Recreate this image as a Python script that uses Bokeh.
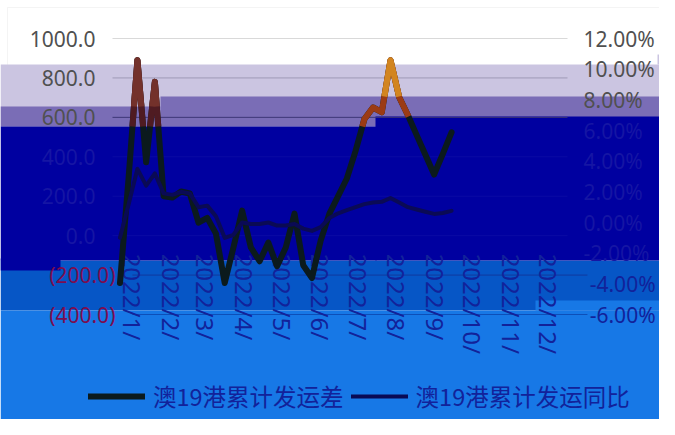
import pandas as pd
from bokeh.plotting import figure
from bokeh.models import (Range1d, LinearAxis, FixedTicker, BoxAnnotation,
                          Legend, LegendItem, NumeralTickFormatter)
from bokeh.embed import file_html
from bokeh.resources import INLINE

# ---------------- data ----------------
week_dates = pd.date_range("2022-01-07", periods=39, freq="7D")
diff_values = [-240, 300, 890, 372, 780, 200, 193, 224, 214, 66,
               90, 10, -240, -60, 127, -60, -130, -35, -155, -60,
               112, -150, -215, -25, 112, 200, 290, 430, 590, 650,
               626, 890, 702, 611, 510, 410, 310, 415, 524]
yoy_values = [-1.0, 1.2, 3.5, 2.4, 3.2, 1.9, 1.8, 2.0, 1.9, 1.0,
              1.1, 0.4, -1.0, -0.8, 0.0, -0.1, -0.1, 0.0, -0.2, -0.2,
              -0.1, -0.4, -0.55, -0.3, 0.3, 0.6, 0.8, 1.0, 1.2, 1.3,
              1.35, 1.6, 1.3, 1.0, 0.85, 0.7, 0.56, 0.62, 0.76]
series_names = ["澳19港累计发运差", "澳19港累计发运同比"]
month_labels = ["2022/1/", "2022/2/", "2022/3/", "2022/4/", "2022/5/", "2022/6/",
                "2022/7/", "2022/8/", "2022/9/", "2022/10/", "2022/11/", "2022/12/"]
month_start_days = [0, 31, 59, 90, 120, 151, 181, 212, 243, 273, 304, 334]
left_ticks = [-400, -200, 0, 200, 400, 600, 800, 1000]
right_ticks = [-6, -4, -2, 0, 2, 4, 6, 8, 10, 12]

# ---------------- layout / style ----------------
W, H = 659, 419
PX_L, PX_R, PX_T, PX_B = 112, 567, 38, 314      # plotting area in canvas pixels
D0, D1 = 0, 365                                  # days shown across the plotting area
TICK_SHIFT = 16                                  # lower strip is offset to the right
LABEL_GRAY = "#505050"
GHOST = "#1515a4"
NAVY_TEXT = "#12229a"
NEG_RED = "#7d0c4f"

ymin, ymax = left_ticks[0], left_ticks[-1]
pmin, pmax = right_ticks[0] / 100, right_ticks[-1] / 100
dpp = (D1 - D0) / (PX_R - PX_L)
vpp = (ymax - ymin) / (PX_B - PX_T)
ppp = (pmax - pmin) / (PX_B - PX_T)

x_range = Range1d(D0 - PX_L * dpp, D1 + (W - PX_R) * dpp)
y_range = Range1d(ymin - (H - PX_B) * vpp, ymax + PX_T * vpp)
pct_range = Range1d(pmin - (H - PX_B) * ppp, pmax + PX_T * ppp)

x_days = [(d - pd.Timestamp("2022-01-01")).days for d in week_dates]
yoy_frac = [v / 100 for v in yoy_values]

p = figure(width=W, height=H, x_range=x_range, y_range=y_range,
           output_backend="svg", toolbar_location=None,
           min_border_left=0, min_border_right=0, min_border_top=0, min_border_bottom=0,
           background_fill_color="white", border_fill_color="white",
           outline_line_color=None)
p.xgrid.visible = False
p.ygrid.visible = False
p.extra_y_ranges = {"pct": pct_range}


def cbox(l, r, t, b, color, level, line=None):
    return BoxAnnotation(left=l, right=r, top=t, bottom=b,
                         left_units="canvas", right_units="canvas",
                         top_units="canvas", bottom_units="canvas",
                         fill_color=color, fill_alpha=0.0 if color is None else 1.0,
                         line_color=line, line_width=1, level=level)


LAV, PUR, DARK, MED, BRI = "#cbc5e1", "#7a6db6", "#0000a0", "#0656c6", "#1778e6"
bands = [
    cbox(7, W + 5, 7, H + 5, None, "image", line="#d9d9d9"),   # chart border
    cbox(0, W, 64, 126, LAV, "image"),
    cbox(657, W, 54, 64, LAV, "image"),
    cbox(0, 160, 106, 126, PUR, "image"),
    cbox(160, W, 96, 126, PUR, "image"),
    cbox(0, W, 260, 310, MED, "image"),
    cbox(0, W, 310, H, BRI, "image"),
    cbox(535, W, 300, 310, BRI, "image"),
    cbox(0, 376, 126, 260, DARK, "image"),
    cbox(375, W, 116, 260, DARK, "image"),
    cbox(0, 60, 258, 270, DARK, "image"),
]
p.renderers.extend(bands)

# gridlines (the two lowest sit in the shifted lower strip)
grid_colors = {1000: "#d9d9d9", 800: "#9f9bb6", 600: "#3d3677", 400: "#0a0aa4",
               200: "#0a0aa4", 0: "#0a0aa4", -200: "#103a9e", -400: "#0d4fb8"}
gx0 = [D0 + (TICK_SHIFT if v < 0 else 0) for v in left_ticks]
gx1 = [D1 + (TICK_SHIFT if v < 0 else 0) for v in left_ticks]
p.segment(x0=gx0, x1=gx1, y0=left_ticks, y1=left_ticks,
          line_color=[grid_colors[v] for v in left_ticks], line_width=1, level="underlay")


# ---------------- axes (one per label colour, all pinned in place) ----------------
def style_axis(ax, ticks, color, standoff, loc, overrides=None):
    ax.ticker = FixedTicker(ticks=ticks, minor_ticks=[])
    ax.fixed_location = loc
    ax.axis_line_color = None
    ax.major_tick_line_color = None
    ax.minor_tick_line_color = None
    ax.major_tick_out = 0
    ax.major_tick_in = 0
    ax.major_label_standoff = standoff
    ax.major_label_text_font = "Noto Sans"
    ax.major_label_text_font_size = "21px"
    ax.major_label_text_color = color
    if overrides:
        ax.major_label_overrides = overrides


upper_l = [v for v in left_ticks if v >= 600]
mid_l = [v for v in left_ticks if 0 <= v < 600]
neg_l = [v for v in left_ticks if v < 0]
lax = p.yaxis[0]
lax.formatter = NumeralTickFormatter(format="0.0")
style_axis(lax, upper_l, LABEL_GRAY, 17, D0)
lax_mid = LinearAxis(formatter=NumeralTickFormatter(format="0.0"))
style_axis(lax_mid, mid_l, GHOST, 17, D0)
p.add_layout(lax_mid, "left")
lax_neg = LinearAxis()
style_axis(lax_neg, neg_l, NEG_RED, 17, D0 + TICK_SHIFT,
           {v: f"({abs(v):.1f})" for v in neg_l})
p.add_layout(lax_neg, "left")

pct_fmt = NumeralTickFormatter(format="0.00%")
upper_r = [v / 100 for v in right_ticks if v >= 8]
mid_r = [v / 100 for v in right_ticks if -2 <= v < 8]
neg_r = [v / 100 for v in right_ticks if v < -2]
for ticks, color, loc in ((upper_r, LABEL_GRAY, D1), (mid_r, GHOST, D1),
                          (neg_r, NAVY_TEXT, D1 + 5)):
    rax = LinearAxis(y_range_name="pct", formatter=pct_fmt)
    style_axis(rax, ticks, color, 16, loc)
    p.add_layout(rax, "right")

xax = p.xaxis[0]
xticks = [d + TICK_SHIFT for d in month_start_days]
xax.ticker = FixedTicker(ticks=xticks, minor_ticks=[])
xax.major_label_overrides = {t: lab for t, lab in zip(xticks, month_labels)}
xax.fixed_location = 0
xax.major_label_orientation = "vertical"
xax.axis_line_color = None
xax.major_tick_line_color = None
xax.minor_tick_line_color = None
xax.major_tick_out = 0
xax.major_tick_in = 0
xax.major_label_standoff = 18
xax.major_label_text_font = "Noto Sans"
xax.major_label_text_font_size = "24px"
xax.major_label_text_color = NAVY_TEXT

# ---------------- lines ----------------
black = p.line(x_days, diff_values, line_color="#0b1a1d", line_width=6,
               line_join="round", line_cap="round", level="overlay")
navy = p.line(x_days, yoy_frac, y_range_name="pct", line_color="#0a0a55", line_width=4,
              line_join="round", line_cap="round", level="overlay")


def px_to_val(yc):
    return ymax - (yc - PX_T) * vpp


def px_to_day(xc):
    return D0 + (xc - PX_L) * dpp


def runs_above(xs, ys, thr_fn):
    runs, cur = [], None
    for i in range(len(xs) - 1):
        xa, ya, xb, yb = xs[i], ys[i], xs[i + 1], ys[i + 1]
        t = thr_fn((xa + xb) / 2)
        ia, ib = ya > t, yb > t
        if not ia and not ib:
            if cur:
                runs.append(cur)
                cur = None
            continue
        if ia and ib:
            if cur is None:
                cur = [(xa, ya)]
            cur.append((xb, yb))
        elif ia:
            xc = xa + (t - ya) / (yb - ya) * (xb - xa)
            if cur is None:
                cur = [(xa, ya)]
            cur.append((xc, t))
            runs.append(cur)
            cur = None
        else:
            xc = xa + (t - ya) / (yb - ya) * (xb - xa)
            if cur:
                runs.append(cur)
            cur = [(xc, t), (xb, yb)]
    if cur:
        runs.append(cur)
    return runs


split_dark = px_to_day(375)
split_pur = px_to_day(160)
thr_dark = lambda d: px_to_val(126) if d < split_dark else px_to_val(116)
thr_pur = lambda d: px_to_val(106) if d < split_pur else px_to_val(96)

for thr, tones in ((thr_dark, ("#4f1b22", "#9b3b14")), (thr_pur, ("#73312b", "#d28520"))):
    for run in runs_above(x_days, diff_values, thr):
        col = tones[0] if run[0][0] < 100 else tones[1]
        p.line([q[0] for q in run], [q[1] for q in run], line_color=col, line_width=6,
               line_join="round", line_cap="butt", level="overlay")

# ---------------- legend ----------------
legend = Legend(items=[LegendItem(label=series_names[0], renderers=[black]),
                       LegendItem(label=series_names[1], renderers=[navy])],
                orientation="horizontal", location=(88, 6), padding=0, margin=0,
                spacing=7, label_standoff=8, glyph_width=57, glyph_height=30,
                label_text_font="Noto Sans CJK SC", label_text_font_size="23.5px",
                label_text_color=NAVY_TEXT, background_fill_alpha=0,
                border_line_color=None)
p.add_layout(legend, "center")

open("out.html", "w").write(file_html(p, INLINE))
